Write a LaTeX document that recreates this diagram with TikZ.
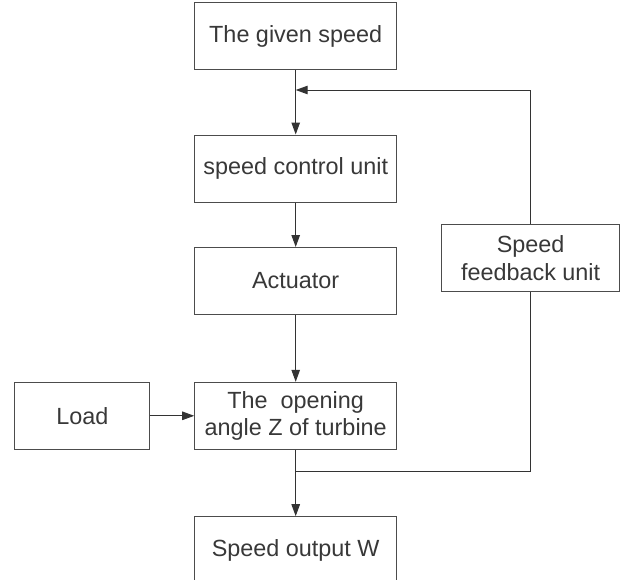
\documentclass[tikz,border=0pt]{standalone}
\usepackage{fontspec}
\setmainfont{Liberation Sans}
\usetikzlibrary{arrows.meta,positioning}
\definecolor{boxline}{rgb}{0.30,0.30,0.30}
\definecolor{txt}{rgb}{0.22,0.22,0.22}
\begin{document}
\begin{tikzpicture}[x=1pt,y=-1pt,
  block/.style={draw=boxline,line width=1pt,minimum width=202pt,minimum height=67pt,
    inner sep=0pt,text=txt,align=center,
    font=\fontsize{23.4pt}{27.7pt}\selectfont},
  wire/.style={draw=black!80,line width=1pt},
  flow/.style={wire,-{Triangle[length=12pt,width=8.5pt]}}]
\useasboundingbox (0,0) rectangle (621,579);
\clip (0,0) rectangle (621,579);
% main chain
\node[block] (given)   at (295.7,36.3)  {The given speed};
\node[block] (control) at (295.7,168.5) {speed control unit};
\node[block] (act)     at (295.7,281)   {Actuator};
\node[block] (open)    at (295.7,415.8) {The\ \ opening\\angle Z of turbine};
\node[block] (out)     at (295.7,550.2) {Speed output W};
% side blocks
\node[block,minimum width=134.7pt] (load) at (82.3,415.8) {Load};
\node[block,minimum width=178pt]   (fb)   at (530.6,258.2) {Speed\\feedback unit};
% junction points of the feedback loop
\coordinate (tap) at (295.7,471.7);
\coordinate (sum) at (295.7,90);
% forward path
\draw[flow] (given) -- (control);
\draw[flow] (control) -- (act);
\draw[flow] (act) -- (open);
\draw[flow] (load) -- (open);
\draw[flow] (open) -- (out);
% feedback path
\draw[wire] (tap) -| (fb.south);
\draw[flow] (fb.north) |- (sum);
\end{tikzpicture}
\end{document}
